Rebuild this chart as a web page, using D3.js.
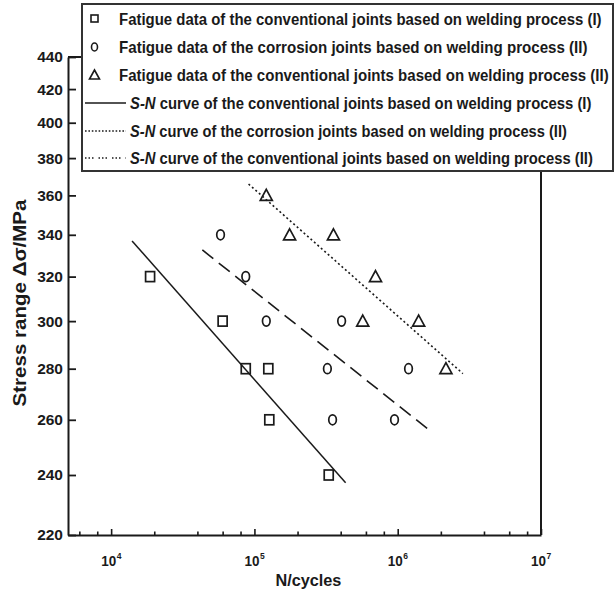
<!DOCTYPE html>
<html>
<head>
<meta charset="utf-8">
<script src="https://cdn.jsdelivr.net/npm/d3@7"></script>
<style>
  html, body { margin: 0; padding: 0; background: #fff; }
  svg { display: block; font-family: "Liberation Sans", Arial, sans-serif; }
</style>
</head>
<body>
<svg id="chart" width="616" height="594"></svg>
<script>
// Fatigue test results (N in cycles, S in MPa)
const convI_N = [1.87e4, 6.0e4, 8.7e4, 1.25e5, 1.27e5, 3.3e5];
const convI_S = [320, 300, 280, 280, 260, 240];

const corrII_N = [5.8e4, 8.7e4, 1.21e5, 4.06e5, 3.23e5, 1.19e6, 3.51e5, 9.5e5];
const corrII_S = [340, 320, 300, 300, 280, 280, 260, 260];

const convII_N = [1.21e5, 1.76e5, 3.56e5, 7.0e5, 5.7e5, 1.40e6, 2.17e6];
const convII_S = [360, 340, 340, 320, 300, 300, 280];

// Fitted S-N curves (straight in log-log space), given by their end points
const curveConvI_N = [1.40e4, 4.33e5];
const curveConvI_S = [337, 237.3];
const curveCorrII_N = [4.33e4, 1.62e6];
const curveCorrII_S = [332.6, 256.6];
const curveConvII_N = [9.1e4, 2.85e6];
const curveConvII_S = [366, 278];

// Axis ticks
const xMajorTicks = [1e4, 1e5, 1e6, 1e7];
const xMajorExp = ["4", "5", "6", "7"];
const xMinorTicks = [6e3, 8e3, 2e4, 4e4, 6e4, 8e4, 2e5, 4e5, 6e5, 8e5, 2e6, 4e6, 6e6, 8e6];
const yTicks = [220, 240, 260, 280, 300, 320, 340, 360, 380, 400, 420, 440];

const legendLabels = [
  { pre: "", text: "Fatigue data of the conventional joints based on welding process (I)" },
  { pre: "", text: "Fatigue data of the corrosion joints based on welding process (II)" },
  { pre: "", text: "Fatigue data of the conventional joints based on welding process (II)" },
  { pre: "S-N", text: " curve of the conventional joints based on welding process (I)" },
  { pre: "S-N", text: " curve of the corrosion joints based on welding process (II)" },
  { pre: "S-N", text: " curve of the conventional joints based on welding process (II)" }
];

const svg = d3.select("#chart");
const ink = "#1a1a1a";

const x = d3.scaleLog().domain([5000, 1e7]).range([68, 541]);
const y = d3.scaleLog().domain([220, 440]).range([535, 57]);

// squeeze a text horizontally so it spans `width` pixels from its anchor point
function squeeze(sel, px, py, width) {
  const w = sel.node().getComputedTextLength();
  sel.attr("transform", `translate(${px},${py}) scale(${width / w},1)`);
}

// plot frame (right and top sides)
svg.append("line").attr("x1", x(1e7)).attr("x2", x(1e7)).attr("y1", y(220)).attr("y2", y(440))
  .attr("stroke", ink).attr("stroke-width", 2);
svg.append("line").attr("x1", x(5000)).attr("x2", x(1e7)).attr("y1", y(440)).attr("y2", y(440))
  .attr("stroke", ink).attr("stroke-width", 2);

// x axis: major and minor ticks pointing inward
const gx = svg.append("g").attr("transform", `translate(0,${y(220)})`);
gx.call(d3.axisBottom(x).tickValues(xMajorTicks).tickSizeInner(-6).tickSizeOuter(0).tickFormat(""));
const gxm = svg.append("g").attr("transform", `translate(0,${y(220)})`);
gxm.call(d3.axisBottom(x).tickValues(xMinorTicks).tickSizeInner(-3.5).tickSizeOuter(0).tickFormat(""));
gxm.select(".domain").remove();
[gx, gxm].forEach(g => {
  g.select(".domain").attr("stroke", ink).attr("stroke-width", 2);
  g.selectAll(".tick line").attr("stroke", ink).attr("stroke-width", 1.6);
});

// x tick labels as powers of ten: base and exponent as separate texts
const xl = svg.append("g");
xMajorTicks.forEach((v, i) => {
  const base = xl.append("text").attr("text-anchor", "start").attr("fill", ink)
    .attr("font-size", 15.5).attr("font-weight", "bold").text("10");
  squeeze(base, x(v) - 10, 566, 15);
  xl.append("text").attr("x", x(v) + 5.5).attr("y", 559).attr("fill", ink)
    .attr("font-size", 8.5).attr("font-weight", "bold").text(xMajorExp[i]);
});

// y axis
const gy = svg.append("g").attr("transform", `translate(${x(5000)},0)`);
gy.call(d3.axisLeft(y).tickValues(yTicks).tickSizeInner(-8).tickSizeOuter(0)
  .tickPadding(5).tickFormat(d3.format("d")));
gy.select(".domain").attr("stroke", ink).attr("stroke-width", 2);
gy.selectAll(".tick line").attr("stroke", ink).attr("stroke-width", 1.8);
gy.selectAll(".tick text").attr("fill", ink).attr("font-size", 15.5).attr("font-weight", "bold")
  .attr("font-family", "Liberation Sans, Arial, sans-serif");

// axis titles
const xt = svg.append("text").attr("text-anchor", "middle")
  .attr("fill", ink).attr("font-size", 17).attr("font-weight", "bold").text("N/cycles");
squeeze(xt, x(1e5) + 54, 586, 66);
svg.append("text").attr("transform", "translate(26,303) rotate(-90)").attr("text-anchor", "middle")
  .attr("fill", ink).attr("font-size", 18).attr("font-weight", "bold")
  .attr("textLength", 207).attr("lengthAdjust", "spacingAndGlyphs")
  .text("Stress range Δσ/MPa");

// S-N curves
const line = d3.line().x(d => x(d[0])).y(d => y(d[1]));
const curves = [
  { N: curveConvI_N, S: curveConvI_S, dash: null, w: 1.5 },
  { N: curveCorrII_N, S: curveCorrII_S, dash: "14,7", w: 1.6 },
  { N: curveConvII_N, S: curveConvII_S, dash: "2,2.6", w: 1.6 }
];
curves.forEach(c => {
  svg.append("path").datum(d3.zip(c.N, c.S)).attr("d", line)
    .attr("fill", "none").attr("stroke", ink).attr("stroke-width", c.w)
    .attr("stroke-dasharray", c.dash);
});

// markers
const sym = {
  square: (g, cx, cy) => g.append("rect").attr("x", cx - 4.5).attr("y", cy - 5).attr("width", 9).attr("height", 10),
  circle: (g, cx, cy) => g.append("ellipse").attr("cx", cx).attr("cy", cy).attr("rx", 3.8).attr("ry", 5),
  triangle: (g, cx, cy) => g.append("path").attr("d", `M${cx},${cy - 6}L${cx + 6},${cy + 5}L${cx - 6},${cy + 5}Z`)
};
const series = [
  { N: convI_N, S: convI_S, s: "square" },
  { N: corrII_N, S: corrII_S, s: "circle" },
  { N: convII_N, S: convII_S, s: "triangle" }
];
const gm = svg.append("g");
series.forEach(se => {
  d3.zip(se.N, se.S).forEach(([n, s]) => {
    sym[se.s](gm, x(n), y(s)).attr("fill", "none").attr("stroke", ink).attr("stroke-width", 1.7);
  });
});

// legend
const lg = svg.append("g");
lg.append("rect").attr("x", 82).attr("y", 4).attr("width", 531).attr("height", 167)
  .attr("fill", "#fff").attr("stroke", "#333").attr("stroke-width", 2);
const rowY = [19, 47, 75, 103, 131, 158];
const rowEnd = [602, 588, 609, 592, 567, 593];
legendLabels.forEach((d, i) => {
  const cy = rowY[i];
  if (i < 3) {
    const el = i === 0 ? lg.append("rect").attr("x", 91).attr("y", cy - 4).attr("width", 7).attr("height", 7)
      : i === 1 ? lg.append("ellipse").attr("cx", 94.5).attr("cy", cy).attr("rx", 3).attr("ry", 4)
      : lg.append("path").attr("d", `M94.5,${cy - 5}L99.5,${cy + 4}L89.5,${cy + 4}Z`);
    el.attr("fill", "none").attr("stroke", ink).attr("stroke-width", 1.6);
  } else {
    const dash = [null, "1.6,1.8", "1.5,2,1.5,2,1.5,5"][i - 3];
    lg.append("line").attr("x1", 85).attr("x2", 126).attr("y1", cy).attr("y2", cy)
      .attr("stroke", ink).attr("stroke-width", 1.6).attr("stroke-dasharray", dash);
  }
  const x0 = i < 3 ? 119 : 130;
  const t = lg.append("text").attr("fill", ink)
    .attr("font-size", 16.5).attr("font-weight", "bold");
  if (d.pre) t.append("tspan").attr("font-style", "italic").text(d.pre);
  t.append("tspan").text(d.text);
  squeeze(t, x0, cy + 5.5, rowEnd[i] - x0);
});
</script>
</body>
</html>
